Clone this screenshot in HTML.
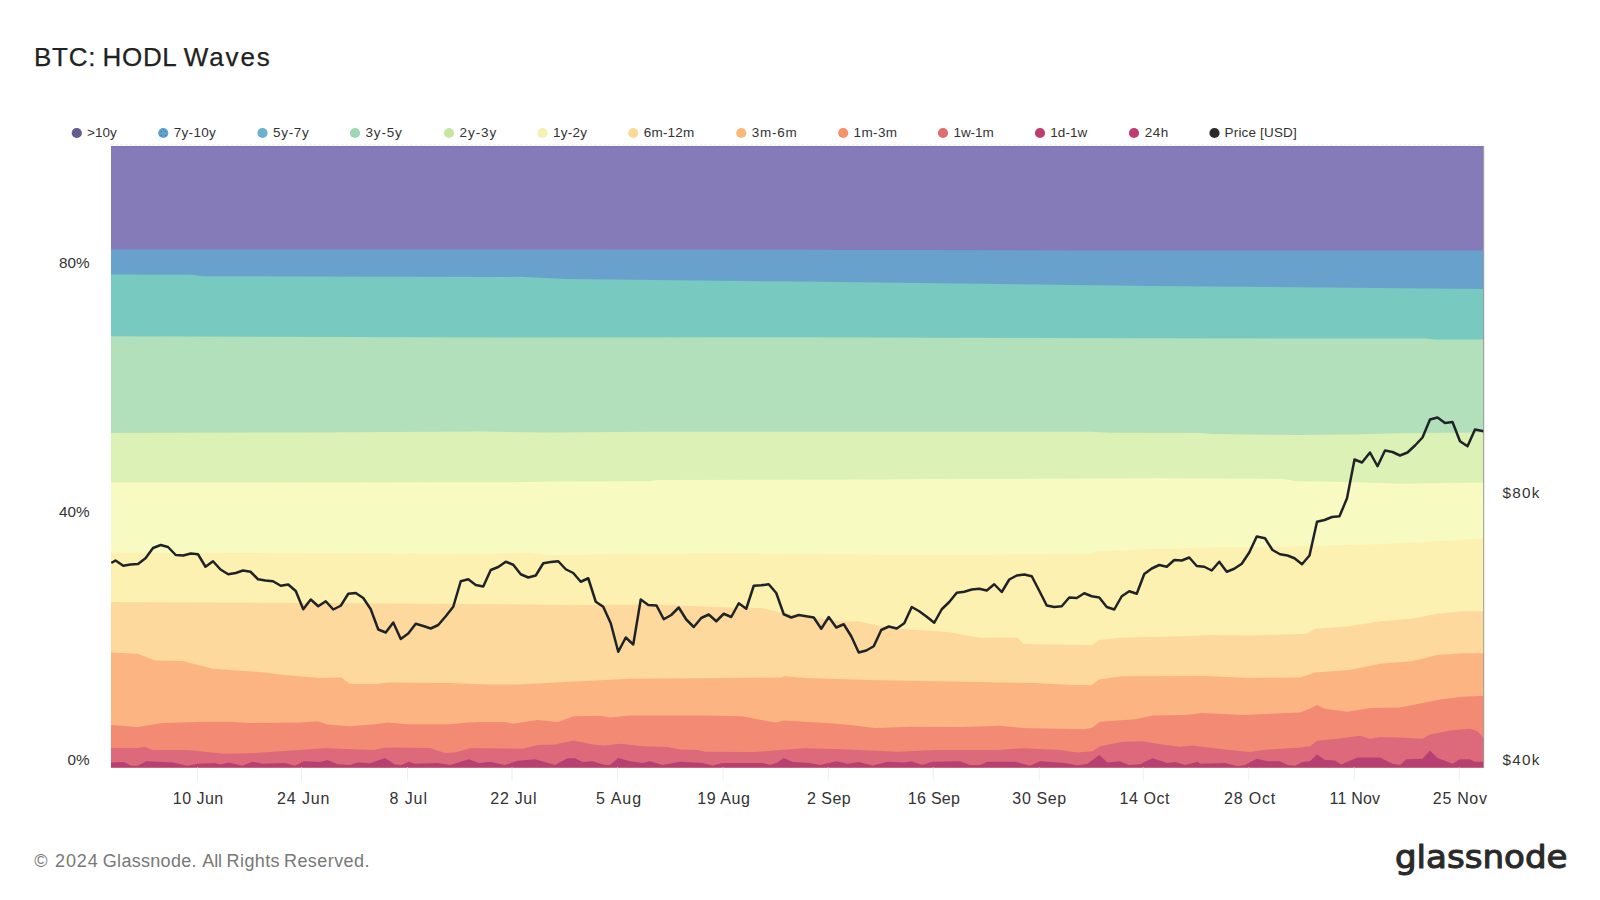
<!DOCTYPE html>
<html lang="en"><head><meta charset="utf-8"><title>BTC: HODL Waves</title>
<style>html,body{margin:0;padding:0;background:#fff;}body{width:1600px;height:900px;overflow:hidden;}svg{display:block;}</style>
</head><body>
<svg width="1600" height="900" viewBox="0 0 1600 900">
<rect width="1600" height="900" fill="#ffffff"/>
<g shape-rendering="geometricPrecision">
<path d="M111 146.2 L1483.5 146.2 L1483.5 767.5 L111 767.5 Z" fill="#867bb9"/>
<path d="M111 249.4 L500 249.5 L800 249.8 L1100 250.4 L1483.5 250.6 L1483.5 767.5 L111 767.5 Z" fill="#68a2cc"/>
<path d="M111 274.5 L192 274.8 L203 276.2 L300 276.5 L500 277 L520 276.8 L566 279 L800 281.6 L1150 286 L1483.5 289 L1483.5 767.5 L111 767.5 Z" fill="#78c9c0"/>
<path d="M111 336.25 L500 337.5 L800 337.3 L1150 338.3 L1425 338.6 L1435 339.5 L1483.5 339.6 L1483.5 767.5 L111 767.5 Z" fill="#b2e0bb"/>
<path d="M111 433 L300 432.5 L480 431.5 L545 432.5 L650 431.75 L1090 431.75 L1110 432.75 L1200 432.9 L1212 434 L1300 435 L1362 434.25 L1400 433.25 L1483.5 432.5 L1483.5 767.5 L111 767.5 Z" fill="#dcf1b5"/>
<path d="M111 482.5 L500 482.3 L560 481.5 L650 481.2 L656 480 L880 479.6 L930 479 L1160 478.25 L1282 478.75 L1295 481.25 L1350 482 L1400 483.75 L1483.5 482.5 L1483.5 767.5 L111 767.5 Z" fill="#f8fbc1"/>
<path d="M111 552.5 L480 553.75 L530 552.5 L550 555 L630 553.75 L730 553.25 L880 554.5 L985 554.5 L1090 553.75 L1097 551.25 L1160 548.75 L1210 547.5 L1260 547 L1300 546.25 L1375 544.25 L1425 542 L1483.5 538.25 L1483.5 767.5 L111 767.5 Z" fill="#fdf1b2"/>
<path d="M111 602 L480 604 L580 605 L655 604.5 L730 607.5 L762 608 L780 612.5 L830 620 L840 621.25 L858.75 621.25 L881.25 626.25 L902.5 629.1 L948.75 631.9 L971.25 636.25 L980 637.75 L1017.5 637.5 L1023.75 644.1 L1092 645 L1099 640 L1122 637.5 L1185 636.25 L1210 635 L1250 635.5 L1307 633.75 L1315 628.75 L1350 626.25 L1380 621.25 L1412 618.75 L1437 613.75 L1462 611.25 L1483.5 611.25 L1483.5 767.5 L111 767.5 Z" fill="#fed99d"/>
<path d="M111 652.5 L137.5 653.75 L155 660.5 L182.5 661 L212.5 668.75 L260 672 L285 675 L320 678 L341 677.5 L350 684 L375 684 L387.5 682.5 L450 683 L475 684 L490 684.5 L517.5 684.5 L580 681.25 L630 678.75 L730 678 L780 677.5 L785 676.25 L805 678 L870 680 L935 681.25 L1035 683 L1072 685 L1092 685 L1099 679.5 L1122 676.25 L1205 676 L1250 678 L1300 677.5 L1315 672.5 L1350 670 L1380 663.75 L1412 661.25 L1437 655 L1462 653.25 L1483.5 653.25 L1483.5 767.5 L111 767.5 Z" fill="#fcb582"/>
<path d="M111 725 L111.25 725 L137.5 727 L162.5 723 L205 721.75 L230 721.75 L250 723 L300 722.5 L317.5 721.25 L327.5 724.5 L350 726.25 L375 724.25 L387.5 722.5 L407.5 724.25 L450 724.25 L467.5 722.5 L480 722 L505 722 L512.5 723.75 L537.5 720 L557.5 722 L573.75 716.25 L600 715.75 L610 717.5 L630 715.5 L705 715.5 L742.5 716.25 L775 722.5 L783.75 720.5 L830 723.25 L855 725.5 L860 726.25 L875 728 L910 726.75 L960 727 L1000 725.75 L1022.5 728 L1085 729.25 L1092.5 727.5 L1100 721.75 L1135 719.25 L1152.5 715.5 L1185 715 L1195 714 L1200 713 L1245 715 L1300 712.5 L1310 708.75 L1317 705 L1325 708.75 L1347.5 711.75 L1370 708 L1400 707.5 L1425 702.5 L1440 699.5 L1462.5 696.75 L1483.25 695.75 L1483.5 695.75 L1483.5 767.5 L111 767.5 Z" fill="#f38b74"/>
<path d="M111 748 L111.25 748 L137.5 748 L145 746.75 L152.5 750 L187.5 750 L205 751.75 L225 753.75 L255 753 L287.5 750.75 L325 748.25 L375 750 L385 747.5 L430 748 L445 753 L455 752.5 L470 748.25 L480 748.25 L522.5 748.75 L537.5 745 L555 744.5 L573.75 740.5 L592.5 744.5 L605 745.5 L620 743.75 L642.5 746.25 L667.5 747 L680 749.5 L697.5 750 L705 751.75 L755 752 L780 750 L805 748.25 L842.5 749.25 L860 750 L897.5 751.75 L935 750 L997.5 750 L1022.5 748.25 L1060 750 L1077.5 752.5 L1092.5 751.25 L1100 746.25 L1122.5 741.75 L1142.5 741.25 L1160 744.25 L1180 746.75 L1192.5 745.5 L1200 746.5 L1225 749.5 L1250 752 L1262.5 750 L1300 747.5 L1310 746.25 L1317 740.75 L1337.5 738.75 L1360 735.75 L1370 738.75 L1380 737 L1400 737.5 L1422.5 738.75 L1430 734.5 L1450 730.5 L1470 728.75 L1477.5 731.25 L1483.25 737.5 L1483.5 737.5 L1483.5 767.5 L111 767.5 Z" fill="#dc6a7a"/>
<path d="M111 762.5 L111.25 762.5 L123.75 762 L131.25 765.75 L137.5 765.75 L146.25 761.25 L172.5 762.5 L187.5 765.75 L197.5 763.75 L215 763 L220 764.5 L228.75 762.5 L242.5 765.75 L252.5 761.75 L262.5 763.75 L285 763 L295 765.75 L303.75 761.25 L320 762 L327.5 760 L337.5 764.25 L350 765 L357.5 762.5 L370 763.25 L385 758 L395 764.5 L401.25 765 L408.75 761.75 L415 763.75 L437.5 763 L450 765 L468.75 759.25 L478.75 763 L480 763 L490 761.75 L505 765 L517.5 760.75 L535 759.25 L555 765 L567.5 758.25 L575 758.25 L582.5 762 L592.5 761.25 L605 765 L610 765 L618.25 758 L630 761.25 L642.5 763 L650 761.25 L662.5 765 L680 761.75 L702.5 763 L712.5 765.5 L722.5 763 L762.5 763 L770 765 L777.5 762.5 L783.75 758 L792.5 762 L810 763 L820 765 L836.25 761.25 L847.5 763.75 L858.75 762 L872.5 765.5 L887.5 761.75 L905 762.5 L911.25 761.25 L922.5 765 L932.5 761.75 L960 761.25 L970 765 L980 765 L987.5 761.75 L1015 761.75 L1030 765.75 L1040 761.25 L1065 763 L1077.5 765.5 L1087.5 763.75 L1099.5 755 L1107.5 762.5 L1120 761.25 L1128.75 765 L1140 764.25 L1152.5 758.25 L1167.5 763 L1175 762 L1185 765 L1197.5 761.75 L1200 763.75 L1225 763 L1237.5 766.25 L1245 765 L1257 758.75 L1267.5 761.25 L1280 761.25 L1287.5 765 L1295 765.75 L1302.5 762 L1310 761.25 L1317 754.5 L1325 760 L1335 760.5 L1341.25 764.5 L1357.5 757.5 L1380 757.5 L1392.5 763.75 L1400 765 L1406.25 759.25 L1422.5 758.75 L1430 750.5 L1437.5 758 L1452.5 763.75 L1460 759.25 L1470 759.25 L1475 761.75 L1483.25 761.75 L1483.5 761.75 L1483.5 767.5 L111 767.5 Z" fill="#b64071"/>
</g>
<rect x="111" y="146.2" width="1372.5" height="1" fill="#7a6cb6"/>
<path d="M111 144.5 H1483" stroke="#f1f1f1" stroke-width="1" stroke-dasharray="3 1.6" fill="none"/>
<rect x="1483.2" y="146" width="1" height="621.5" fill="#9a9a9a"/>
<rect x="197" y="767.5" width="1" height="13" fill="#eeeeee"/>
<rect x="301" y="767.5" width="1" height="13" fill="#eeeeee"/>
<rect x="407" y="767.5" width="1" height="13" fill="#eeeeee"/>
<rect x="511.5" y="767.5" width="1" height="13" fill="#eeeeee"/>
<rect x="617" y="767.5" width="1" height="13" fill="#eeeeee"/>
<rect x="722.5" y="767.5" width="1" height="13" fill="#eeeeee"/>
<rect x="827.75" y="767.5" width="1" height="13" fill="#eeeeee"/>
<rect x="932.75" y="767.5" width="1" height="13" fill="#eeeeee"/>
<rect x="1038.75" y="767.5" width="1" height="13" fill="#eeeeee"/>
<rect x="1142.75" y="767.5" width="1" height="13" fill="#eeeeee"/>
<rect x="1248.25" y="767.5" width="1" height="13" fill="#eeeeee"/>
<rect x="1353.75" y="767.5" width="1" height="13" fill="#eeeeee"/>
<rect x="1458.75" y="767.5" width="1" height="13" fill="#eeeeee"/>
<g font-family="'Liberation Sans', sans-serif" font-size="16" fill="#333333">
<text x="172.85" y="804.4" textLength="50.35" lengthAdjust="spacing">10 Jun</text>
<text x="277.1" y="804.4" textLength="52.35" lengthAdjust="spacing">24 Jun</text>
<text x="389.6" y="804.4" textLength="37.35" lengthAdjust="spacing">8 Jul</text>
<text x="490.35" y="804.4" textLength="46.1" lengthAdjust="spacing">22 Jul</text>
<text x="596.1" y="804.4" textLength="45.1" lengthAdjust="spacing">5 Aug</text>
<text x="697.35" y="804.4" textLength="52.6" lengthAdjust="spacing">19 Aug</text>
<text x="807.1" y="804.4" textLength="43.6" lengthAdjust="spacing">2 Sep</text>
<text x="907.85" y="804.4" textLength="52.1" lengthAdjust="spacing">16 Sep</text>
<text x="1012.35" y="804.4" textLength="53.85" lengthAdjust="spacing">30 Sep</text>
<text x="1119.6" y="804.4" textLength="49.85" lengthAdjust="spacing">14 Oct</text>
<text x="1224.1" y="804.4" textLength="51.1" lengthAdjust="spacing">28 Oct</text>
<text x="1329.6" y="804.4" textLength="50.35" lengthAdjust="spacing">11 Nov</text>
<text x="1432.85" y="804.4" textLength="54.1" lengthAdjust="spacing">25 Nov</text>
</g>
<g font-family="'Liberation Sans', sans-serif" font-size="15.3" fill="#333333">
<text x="89.5" y="268.3" text-anchor="end">80%</text>
<text x="89.5" y="516.9" text-anchor="end">40%</text>
<text x="89.5" y="764.6" text-anchor="end">0%</text>
<text x="1502.4" y="497.5" textLength="37" lengthAdjust="spacing">$80k</text>
<text x="1502.4" y="765" textLength="37" lengthAdjust="spacing">$40k</text>
</g>
<defs><clipPath id="plot"><rect x="111" y="146" width="1372.5" height="621.5"/></clipPath></defs>
<path d="M111.25 563 L115.5 560.5 L123.25 565.75 L130.5 564.5 L138 564 L145.5 558.25 L153 548 L160.75 545 L168 547 L175.75 555 L183.25 555.5 L190.75 553.5 L198 554.25 L205.5 566.75 L213 561.25 L220.5 569.5 L228.25 574.25 L235.75 573 L243 570.5 L250.5 571.75 L258 579.25 L265.5 580.5 L273 581.25 L280.75 585.75 L288.25 584.5 L295.75 591 L303.25 609.25 L310.75 599.5 L318.25 606.25 L325.75 601.25 L333.25 609.5 L340.75 605.75 L348.25 593.75 L355.75 593 L363.25 598 L370.75 609.25 L378.25 629.5 L385.75 632.5 L393.25 622.5 L400.75 639 L408.25 633.5 L415.75 623.75 L423.25 626 L430.75 628.5 L438.25 625 L445.75 616.25 L453.25 606.75 L460.75 581.25 L468.25 579.25 L475.75 585 L483.25 586.5 L490.75 570 L498.25 567 L505.75 561.75 L513.25 564.75 L520.75 574.25 L528.25 577.5 L535.75 575.5 L543.25 563.25 L550.75 562 L558.25 561.25 L565.75 569.25 L573.25 573 L580.75 581.75 L588.25 578.25 L595.75 601.75 L603.25 606.75 L610.75 623.25 L618.25 651.75 L625.75 637.5 L633.25 644.5 L640.75 599.5 L648.25 605 L656.5 605.5 L663.75 619.25 L671.25 615 L678.75 607.5 L686.25 619.5 L693.75 627 L701.25 618 L708.75 614.5 L716.25 621.25 L723.75 613.75 L731.25 617 L738.75 603.25 L746.25 608.75 L753.75 585.75 L761.25 585.25 L768.75 584.25 L776.25 593 L783.75 614.25 L791.25 617.5 L798.75 615 L806.25 616.25 L813.75 617.5 L821.25 628.75 L828.75 617 L836.25 627.5 L843.75 624.25 L851.25 636.25 L858.75 652.5 L866.25 650.5 L873.75 646.25 L881.25 630 L888.75 626.5 L896.75 628.5 L904.25 623.25 L911.75 607 L919.25 611.25 L926.75 616.75 L934.25 622.75 L941.75 609.25 L949.25 602 L956.75 592.75 L964.25 591.75 L971.75 589.5 L979.25 588.75 L986.75 590.5 L994.25 584.25 L1001.75 592 L1009.25 579.5 L1016.75 575.5 L1024.25 574.5 L1031.75 576.25 L1039.25 590.75 L1046.75 605.5 L1054.25 607 L1061.75 606.25 L1069.25 597.5 L1076.75 598 L1084.25 593.25 L1091.75 596.25 L1099.25 597.5 L1106.75 607 L1114.25 609.5 L1121.75 596.25 L1129.25 591.25 L1136.75 593.75 L1144.25 574 L1151.75 568.5 L1159.25 565 L1166.75 566.75 L1174.25 560 L1181.75 560.5 L1189.25 557.5 L1196.75 566 L1204.25 566.75 L1211.75 570.5 L1219.25 561.75 L1226.75 571.75 L1234.25 568.75 L1241.75 563.75 L1249.25 552.5 L1256.75 536.5 L1265 538.25 L1272.5 550 L1280 554.25 L1287.5 555.5 L1294.5 558.25 L1302 564.25 L1309.5 555.5 L1317 521.75 L1324.5 520 L1332 517 L1339.5 516.25 L1347 498.25 L1354.5 459.5 L1362 462.5 L1370 452.5 L1377.5 466.25 L1385 450.5 L1392.5 452 L1400 455.5 L1407.5 452.5 L1415 445.5 L1422.5 437.5 L1430 419.5 L1437.5 417.5 L1445 423 L1452.5 422 L1460 441.25 L1467.5 446.25 L1475 429.5 L1483.5 431.25" fill="none" stroke="#1f2328" stroke-width="2.5" stroke-linejoin="round" stroke-linecap="butt" clip-path="url(#plot)"/>
<g font-family="'Liberation Sans', sans-serif" font-size="13.5" fill="#333333">
<circle cx="76.75" cy="133" r="5.1" fill="#7265ad"/>
<text x="87" y="137.3" textLength="29.75" lengthAdjust="spacing">&gt;10y</text>
<circle cx="163.25" cy="133" r="5.1" fill="#5ca3d2"/>
<text x="173.75" y="137.3" textLength="42" lengthAdjust="spacing">7y-10y</text>
<circle cx="262.5" cy="133" r="5.1" fill="#68b1d1"/>
<text x="273" y="137.3" textLength="35.75" lengthAdjust="spacing">5y-7y</text>
<circle cx="355" cy="133" r="5.1" fill="#9bd8b5"/>
<text x="365.5" y="137.3" textLength="36.25" lengthAdjust="spacing">3y-5y</text>
<circle cx="449" cy="133" r="5.1" fill="#c6e6a2"/>
<text x="459.5" y="137.3" textLength="36.75" lengthAdjust="spacing">2y-3y</text>
<circle cx="542.5" cy="133" r="5.1" fill="#f4f2b0"/>
<text x="553" y="137.3" textLength="34" lengthAdjust="spacing">1y-2y</text>
<circle cx="633.25" cy="133" r="5.1" fill="#fdd996"/>
<text x="643.75" y="137.3" textLength="50.5" lengthAdjust="spacing">6m-12m</text>
<circle cx="741.25" cy="133" r="5.1" fill="#fbb878"/>
<text x="751.75" y="137.3" textLength="45" lengthAdjust="spacing">3m-6m</text>
<circle cx="843.2" cy="133" r="5.1" fill="#f5926b"/>
<text x="853.6" y="137.3" textLength="43.4" lengthAdjust="spacing">1m-3m</text>
<circle cx="943" cy="133" r="5.1" fill="#e26d70"/>
<text x="953.5" y="137.3" textLength="40.2" lengthAdjust="spacing">1w-1m</text>
<circle cx="1040" cy="133" r="5.1" fill="#c03c6e"/>
<text x="1050.2" y="137.3" textLength="37.1" lengthAdjust="spacing">1d-1w</text>
<circle cx="1134" cy="133" r="5.1" fill="#c03c6e"/>
<text x="1144.8" y="137.3" textLength="23.4" lengthAdjust="spacing">24h</text>
<circle cx="1214.5" cy="133" r="5.1" fill="#2a2a2a"/>
<text x="1224.6" y="137.3" textLength="72.2" lengthAdjust="spacing">Price [USD]</text>
</g>
<defs><clipPath id="c1"><circle cx="76.9" cy="133" r="5"/></clipPath></defs>
<g clip-path="url(#c1)" stroke="#4a4a55" stroke-width="0.7" opacity="0.75"><path d="M66 127 l12 12 M76 127 l-12 12"/><path d="M69.2 127 l12 12 M79.2 127 l-12 12"/><path d="M72.4 127 l12 12 M82.4 127 l-12 12"/><path d="M75.6 127 l12 12 M85.6 127 l-12 12"/><path d="M78.8 127 l12 12 M88.8 127 l-12 12"/><path d="M82 127 l12 12 M92 127 l-12 12"/></g>
<g fill="#4d5a68" opacity="0.8"><circle cx="161.3" cy="131.3" r="0.6"/><circle cx="165.6" cy="131.3" r="0.6"/><circle cx="161.3" cy="135.6" r="0.6"/><circle cx="165.6" cy="135.6" r="0.6"/><circle cx="163.4" cy="129.6" r="0.5"/></g>
<text y="65.9" font-family="'Liberation Sans', sans-serif" font-size="26" fill="#222222" stroke="#222222" stroke-width="0.25" xml:space="preserve"><tspan x="34" textLength="61.5" lengthAdjust="spacing">BTC:</tspan> <tspan x="102.6" textLength="73.2" lengthAdjust="spacing">HODL</tspan> <tspan x="183.7" textLength="86.1" lengthAdjust="spacing">Waves</tspan></text>
<text y="866.7" font-family="'Liberation Sans', sans-serif" font-size="18" fill="#787878"  xml:space="preserve"><tspan x="34.3" textLength="15.2" lengthAdjust="spacing">©</tspan> <tspan x="55" textLength="42.8" lengthAdjust="spacing">2024</tspan> <tspan x="102.8" textLength="93.7" lengthAdjust="spacing">Glassnode.</tspan> <tspan x="202.3" textLength="19.7" lengthAdjust="spacing">All</tspan> <tspan x="226.6" textLength="53" lengthAdjust="spacing">Rights</tspan> <tspan x="284" textLength="85.5" lengthAdjust="spacing">Reserved.</tspan></text>
<text x="1394.9" y="868.4" font-family="'DejaVu Sans', 'Liberation Sans', sans-serif" font-size="32" fill="#2a2a2a" stroke="#2a2a2a" stroke-width="1.05" stroke-linejoin="round" textLength="172.6" lengthAdjust="spacingAndGlyphs">glassnode</text>
</svg>
</body></html>
